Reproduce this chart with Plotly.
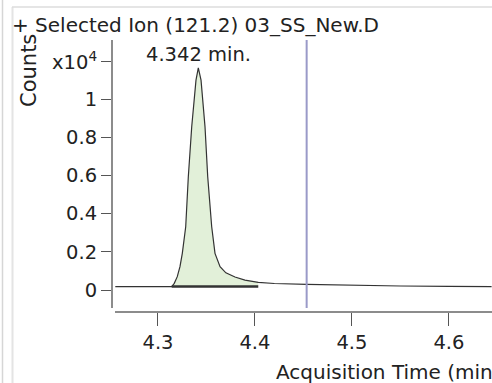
import plotly.graph_objects as go

# ---- data (counts in units of x10^4) ----
time_min = [4.256, 4.28, 4.30, 4.3142, 4.3168, 4.3199, 4.3227, 4.3251, 4.3286,
            4.3313, 4.3348, 4.3392, 4.3416, 4.3444, 4.3485, 4.3513, 4.3554,
            4.3588, 4.3640, 4.3700, 4.3794, 4.3897, 4.4034,
            4.42, 4.4533, 4.50, 4.55, 4.60, 4.644]
counts_e4 = [0.018, 0.018, 0.018, 0.018, 0.035, 0.07, 0.122, 0.192, 0.331,
             0.593, 0.855, 1.099, 1.163, 1.099, 0.855, 0.593, 0.331,
             0.192, 0.122, 0.090, 0.068, 0.052, 0.040,
             0.034, 0.029, 0.024, 0.021, 0.019, 0.018]
peak_start, peak_end = 4.3142, 4.4034
peak_apex_time = 4.342
peak_label = "4.342 min."
baseline_level = 0.018
marker_time = 4.4533
y_tickvals = [0, 0.2, 0.4, 0.6, 0.8, 1, 1.194]
y_ticktext = ["0", "0.2", "0.4", "0.6", "0.8", "1", "x10<sup>4</sup>"]
x_tickvals = [4.3, 4.4, 4.5, 4.6]
x_ticktext = ["4.3", "4.4", "4.5", "4.6"]
title_text = "+ Selected Ion (121.2) 03_SS_New.D"
x_title = "Acquisition Time (min)"
y_title = "Counts"

W, H = 492, 383
FONT = "DejaVu Sans"
TXT = "#222222"

def px(x):
    return x / W

def py(y):
    return 1 - y / H

# peak region for integration fill
pk_t = [t for t in time_min if peak_start <= t <= peak_end]
pk_v = [v for t, v in zip(time_min, counts_e4) if peak_start <= t <= peak_end]
fill_x = pk_t + [peak_end, peak_start]
fill_y = pk_v + [baseline_level, baseline_level]

fig = go.Figure()
fig.add_trace(go.Scatter(x=fill_x, y=fill_y, fill="toself", fillcolor="#e2f0d9",
                         mode="lines", line=dict(width=0), hoverinfo="skip",
                         showlegend=False))
fig.add_trace(go.Scatter(x=time_min, y=counts_e4, mode="lines",
                         line=dict(color="#333333", width=1.2), showlegend=False))
fig.add_trace(go.Scatter(x=[peak_start, peak_end], y=[baseline_level, baseline_level],
                         mode="lines", line=dict(color="#333333", width=2.5),
                         showlegend=False))

fig.add_shape(type="line", xref="x", yref="y domain", x0=marker_time, x1=marker_time,
              y0=0, y1=1, line=dict(color="#9a9ac8", width=2))

# frame lines
fig.add_shape(type="line", xref="paper", yref="paper", x0=px(2.5), x1=px(2.5),
              y0=0, y1=1, line=dict(color="#d6d6d6", width=1.5))
fig.add_shape(type="line", xref="paper", yref="paper", x0=px(12.5), x1=px(12.5),
              y0=0, y1=py(7), line=dict(color="#e4e4e4", width=2))
fig.add_shape(type="line", xref="paper", yref="paper", x0=px(12), x1=1,
              y0=py(7), y1=py(7), line=dict(color="#dcdcdc", width=1.5))

fig.add_annotation(text=title_text, xref="paper", yref="paper", x=px(10), y=py(25),
                   xanchor="left", yanchor="middle", showarrow=False,
                   font=dict(family=FONT, size=20, color=TXT))
fig.add_annotation(text=y_title, xref="paper", yref="paper", x=px(29), y=py(71),
                   xanchor="center", yanchor="middle", textangle=-90, showarrow=False,
                   font=dict(family=FONT, size=21, color=TXT))
fig.add_annotation(text=x_title, xref="paper", yref="paper", x=px(274), y=py(372),
                   xanchor="left", yanchor="middle", showarrow=False,
                   font=dict(family=FONT, size=20, color=TXT))
fig.add_annotation(text=peak_label, xref="x", yref="paper", x=peak_apex_time, y=py(55),
                   xanchor="center", yanchor="middle", showarrow=False,
                   font=dict(family=FONT, size=19.5, color=TXT))

fig.update_layout(
    template="none",
    width=W, height=H,
    margin=dict(l=0, r=0, t=0, b=0),
    paper_bgcolor="white", plot_bgcolor="white",
    showlegend=False,
    font=dict(family=FONT, size=19.5, color=TXT),
    xaxis=dict(domain=[px(115), 1], anchor="free", position=py(312),
               range=[4.2557, 4.6444], tickvals=x_tickvals, ticktext=x_ticktext,
               showgrid=False, zeroline=False, showline=True, linecolor="#8c8c8c",
               linewidth=2, ticks="outside", ticklen=13, tickwidth=1.2,
               tickcolor="#555555", automargin=False,
               tickfont=dict(family=FONT, size=19.5, color=TXT)),
    yaxis=dict(domain=[py(308), py(40)], anchor="free", position=px(112),
               range=[-0.0942, 1.309], tickvals=y_tickvals, ticktext=y_ticktext,
               showgrid=False, zeroline=False, showline=True, linecolor="#8c8c8c",
               linewidth=2, ticks="outside", ticklen=10, tickwidth=1.2,
               tickcolor="#555555", automargin=False,
               tickfont=dict(family=FONT, size=19.5, color=TXT)),
)

fig.write_html("out.html")
